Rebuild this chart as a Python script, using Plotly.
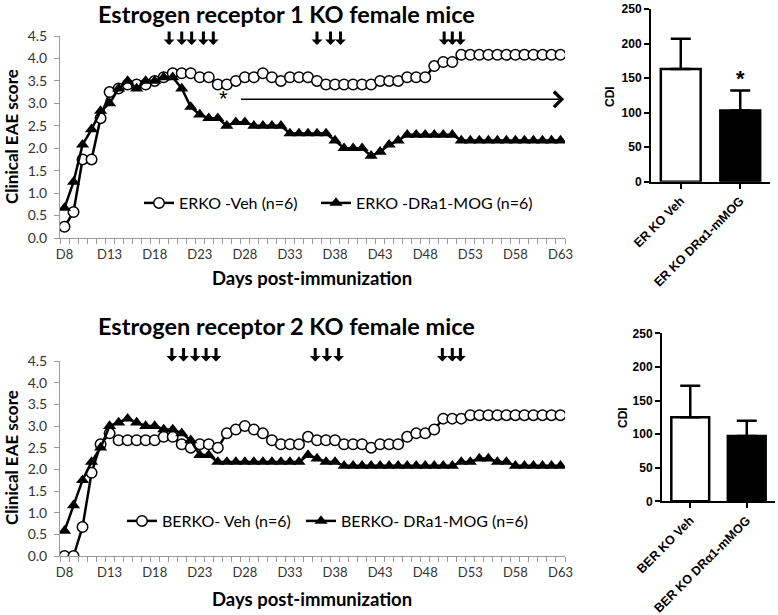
import plotly.graph_objects as go

W, H = 778, 615

days = list(range(8, 64))
day_ticks = list(range(8, 64, 5))
day_tick_labels = ["D%d" % d for d in day_ticks]

erko_veh = ([0.25, 0.58, 1.75, 1.75, 2.67, 3.25, 3.33, 3.42, 3.42, 3.42, 3.5, 3.58, 3.67, 3.67, 3.67,
             3.58, 3.58, 3.42, 3.42, 3.5, 3.58, 3.58, 3.67, 3.58, 3.5, 3.58, 3.58, 3.58, 3.5]
            + [3.42] * 6 + [3.5] * 3 + [3.58] * 3 + [3.83, 3.92, 3.92] + [4.08] * 12)
erko_mog = ([0.67, 1.25, 2.08, 2.42, 2.83, 3.0, 3.33, 3.5, 3.33, 3.5, 3.5, 3.58, 3.58, 3.33, 2.92,
             2.75, 2.67, 2.67, 2.5, 2.58, 2.58, 2.5, 2.5, 2.5, 2.5]
            + [2.33] * 5 + [2.17] + [2.0] * 3 + [1.83, 1.92, 2.08, 2.17] + [2.3] * 6 + [2.17] * 12)
berko_veh = ([0.0, 0.0, 0.67, 1.92, 2.58, 2.83] + [2.67] * 5
             + [2.75, 2.75, 2.58, 2.5, 2.58, 2.58, 2.5, 2.83, 2.92, 3.0, 2.92, 2.83, 2.67, 2.58, 2.58, 2.58, 2.75]
             + [2.67] * 3 + [2.58] * 3 + [2.5] + [2.58] * 3 + [2.75, 2.83, 2.83, 2.92] + [3.17] * 3 + [3.25] * 11)
berko_mog = ([0.58, 1.17, 1.75, 2.17, 2.5, 3.0, 3.08, 3.17, 3.08, 3.0, 3.0, 2.92, 2.92, 2.83, 2.67, 2.33, 2.33]
             + [2.17] * 10 + [2.33, 2.25, 2.17, 2.17] + [2.08] * 13 + [2.17, 2.17, 2.25, 2.25, 2.17, 2.17] + [2.08] * 6)

treat_days_1 = [19.6, 21.0, 22.1, 23.4, 24.5, 36.0, 37.5, 38.6, 50.1, 51.0, 51.9]
treat_days_2 = [19.9, 21.2, 22.5, 23.7, 24.8, 35.8, 37.1, 38.4, 49.9, 51.0, 51.9]

bar_cats_1 = ["ER KO Veh", "ER KO DRα1-mMOG"]
bar_vals_1 = [163, 103]
bar_err_1 = [44, 29]
bar_cats_2 = ["BER KO Veh", "BER KO DRα1-mMOG"]
bar_vals_2 = [125, 97]
bar_err_2 = [47, 23]

names_1 = ["ERKO -Veh (n=6)", "ERKO -DRa1-MOG (n=6)"]
names_2 = ["BERKO- Veh (n=6)", "BERKO- DRa1-MOG (n=6)"]


def xd(a, b):
    return [a / W, b / W]


def yd(top, bottom):
    return [1 - bottom / H, 1 - top / H]


FONT = "Lato"
AX_GRAY = "#9a9a9a"
TXT = "#333333"

fig = go.Figure()

circ = dict(symbol="circle", size=10.5, color="white", line=dict(color="black", width=1.5))
tri = dict(symbol="triangle-up", size=11.5, color="black", line=dict(color="black", width=0))
ln = dict(color="black", width=2.5)

fig.add_trace(go.Scatter(x=days, y=erko_veh, mode="lines+markers", name=names_1[0], line=ln, marker=circ,
                         xaxis="x", yaxis="y", legend="legend"))
fig.add_trace(go.Scatter(x=days, y=erko_mog, mode="lines+markers", name=names_1[1], line=ln, marker=tri,
                         xaxis="x", yaxis="y", legend="legend2"))
fig.add_trace(go.Scatter(x=days, y=berko_veh, mode="lines+markers", name=names_2[0], line=ln, marker=circ,
                         xaxis="x2", yaxis="y2", legend="legend3"))
fig.add_trace(go.Scatter(x=days, y=berko_mog, mode="lines+markers", name=names_2[1], line=ln, marker=tri,
                         xaxis="x2", yaxis="y2", legend="legend4"))

for cats, vals, errs, xa, ya in [(bar_cats_1, bar_vals_1, bar_err_1, "x3", "y3"),
                                 (bar_cats_2, bar_vals_2, bar_err_2, "x4", "y4")]:
    fig.add_trace(go.Bar(x=cats, y=vals, width=0.67, showlegend=False,
                         marker=dict(color=["white", "black"], line=dict(color="black", width=2.5)),
                         error_y=dict(type="data", array=errs, arrayminus=[0, 0], symmetric=False,
                                      color="black", thickness=2.5, width=10),
                         xaxis=xa, yaxis=ya))

line_x = dict(range=[7.5, 63.5], tickmode="array", tickvals=day_ticks, ticktext=day_tick_labels,
              ticks="", showline=True, linecolor=AX_GRAY, linewidth=1, showgrid=False, zeroline=False,
              automargin=False, tickfont=dict(family=FONT, size=13, color=TXT), ticklabelstandoff=4,
              minor=dict(ticks="outside", tickmode="linear", tick0=7.5, dtick=1, ticklen=5,
                         tickcolor=AX_GRAY, showgrid=False))
line_y = dict(range=[0, 4.5], tickmode="linear", tick0=0, dtick=0.5, tickformat=".1f", ticks="outside",
              ticklen=5, tickcolor=AX_GRAY, showline=True, linecolor=AX_GRAY, linewidth=1,
              showgrid=False, zeroline=False, automargin=False, ticklabelstandoff=4,
              tickfont=dict(family=FONT, size=14, color=TXT))

bar_x = dict(showline=True, linecolor="black", linewidth=2, ticks="outside", ticklen=5, tickwidth=2,
             tickcolor="black", tickangle=-45, showgrid=False, automargin=False,
             tickfont=dict(family="Liberation Sans", size=12.5, color="black", weight="bold"))
bar_y = dict(range=[0, 250], dtick=50, showline=True, linecolor="black", linewidth=2, ticks="outside",
             ticklen=5, tickwidth=2, tickcolor="black", showgrid=False, zeroline=False, automargin=False,
             tickfont=dict(family="Liberation Sans", size=12, color="black", weight="bold"))


def leg(xpx, ypx):
    return dict(orientation="h", x=xpx / W, y=1 - ypx / H, xanchor="left", yanchor="middle",
                font=dict(family=FONT, size=16, color="black"), bgcolor="rgba(0,0,0,0)",
                itemclick=False, itemdoubleclick=False)


fig.update_layout(
    width=W, height=H, margin=dict(l=0, r=0, t=0, b=0, autoexpand=False),
    paper_bgcolor="white", plot_bgcolor="white",
    xaxis=dict(domain=xd(60, 565), anchor="y", **line_x),
    yaxis=dict(domain=yd(36, 238), anchor="x", **line_y),
    xaxis2=dict(domain=xd(60, 565), anchor="y2", **line_x),
    yaxis2=dict(domain=yd(361, 556), anchor="x2", **line_y),
    xaxis3=dict(domain=xd(651, 770), anchor="y3", range=[-0.5, 1.5], **bar_x),
    yaxis3=dict(domain=yd(9, 181.7), anchor="x3", **bar_y),
    xaxis4=dict(domain=xd(662, 775), anchor="y4", range=[-0.5, 1.5], **bar_x),
    yaxis4=dict(domain=yd(333.3, 501.3), anchor="x4", **bar_y),
    legend=leg(139, 203),
    legend2=leg(316, 203),
    legend3=leg(122, 521),
    legend4=leg(301, 521),
)

ann = []


def txt(text, xpx, ypx, size, family=FONT, angle=0):
    return dict(text=text, x=xpx / W, y=1 - ypx / H, xref="paper", yref="paper", showarrow=False,
                xanchor="center", yanchor="middle", textangle=angle,
                font=dict(family=family, size=size, color="black"))


ann.append(txt("<b>Estrogen receptor 1 KO female mice</b>", 286, 14, 23.5))
ann.append(txt("<b>Estrogen receptor 2 KO female mice</b>", 286, 326, 23.5))
ann.append(txt("<b>Clinical EAE score</b>", 11, 137, 17, angle=-90))
ann.append(txt("<b>Clinical EAE score</b>", 11, 458, 17, angle=-90))
ann.append(txt("<b>Days post-immunization</b>", 312, 278, 18.5))
ann.append(txt("<b>Days post-immunization</b>", 312, 599, 18.5))
ann.append(txt("<b>CDI</b>", 610, 97, 12, family="Liberation Sans", angle=-90))
ann.append(txt("<b>CDI</b>", 623, 418, 12, family="Liberation Sans", angle=-90))

# treatment arrows
for d in treat_days_1:
    ann.append(dict(x=d, y=4.30, xref="x", yref="y", text="", showarrow=True, arrowhead=1, arrowsize=0.6,
                    arrowwidth=3, arrowcolor="black", ax=0, ay=-15))
for d in treat_days_2:
    ann.append(dict(x=d, y=4.49, xref="x2", yref="y2", text="", showarrow=True, arrowhead=1, arrowsize=0.6,
                    arrowwidth=3, arrowcolor="black", ax=0, ay=-15))

# long significance arrow and asterisks
ann.append(dict(x=63.4, y=3.09, xref="x", yref="y", ax=27.4, ay=3.09, axref="x", ayref="y", text="",
                showarrow=True, arrowhead=4, arrowsize=2, arrowwidth=1.5, arrowcolor="black"))
ann.append(dict(x=25.6, y=3.1, xref="x", yref="y", text="*", showarrow=False,
                font=dict(family="Liberation Sans", size=22, color="black")))
ann.append(dict(x=1, y=150, xref="x3", yref="y3", text="<b>*</b>", showarrow=False,
                font=dict(family="Liberation Sans", size=22, color="black")))

fig.update_layout(annotations=ann)

fig.write_html("out.html", config={"displayModeBar": False},
               post_script="document.body.style.margin='0';document.body.style.overflow='hidden';")
